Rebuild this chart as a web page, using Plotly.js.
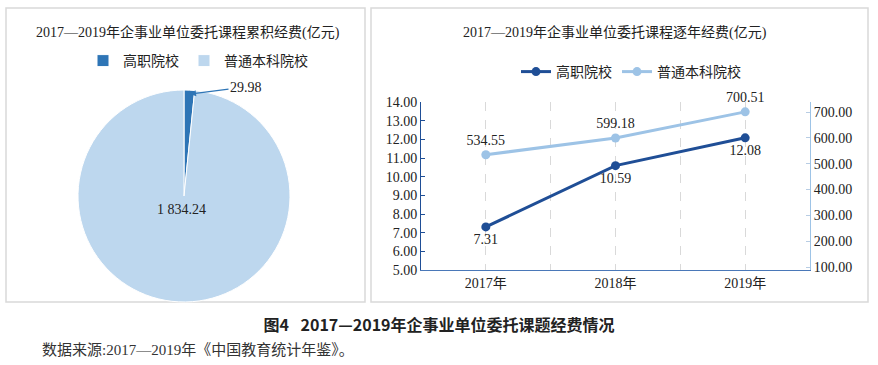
<!DOCTYPE html>
<html>
<head>
<meta charset="utf-8">
<script src="https://cdn.plot.ly/plotly-3.0.1.min.js"></script>
<style>html,body{margin:0;padding:0;background:#fff;}#chart{width:878px;height:365px;}</style>
</head>
<body>
<div id="chart"></div>
<script>
// ---- data ----
const pieLabels = ['高职院校', '普通本科院校'];
const pieValues = [29.98, 1834.24];
const years = ['2017年', '2018年', '2019年'];
const gaozhi = [7.31, 10.59, 12.08];
const benke = [534.55, 599.18, 700.51];
const leftTicks = [5, 6, 7, 8, 9, 10, 11, 12, 13, 14];
const rightTicks = [100, 200, 300, 400, 500, 600, 700];

const SERIF = '"Liberation Serif", "Noto Sans CJK SC", serif';
const W = 878, H = 365;
const px = x => x / W;
const py = y => 1 - y / H;

const dark = '#1f4e96';
const light = '#9dc3e6';

function fmtSpace(v) {
  const parts = v.toFixed(2).split('.');
  parts[0] = parts[0].replace(/\B(?=(\d{3})+(?!\d))/g, ' ');
  return parts.join('.');
}

const traces = [
  {
    type: 'pie',
    labels: pieLabels,
    values: pieValues,
    sort: false,
    direction: 'clockwise',
    rotation: 0,
    marker: {colors: ['#2e75b6', '#bdd7ee'], line: {color: '#ffffff', width: 1}},
    textinfo: 'none',
    hoverinfo: 'none',
    domain: {x: [px(78), px(290)], y: [py(302), py(90)]},
    legend: 'legend',
    showlegend: true
  },
  {
    type: 'scatter',
    mode: 'lines+markers+text',
    name: '高职院校',
    x: years,
    y: gaozhi,
    text: gaozhi.map(v => v.toFixed(2)),
    textposition: 'bottom center',
    textfont: {family: SERIF, size: 14, color: '#222'},
    line: {color: dark, width: 3},
    marker: {color: dark, size: 9},
    xaxis: 'x', yaxis: 'y',
    legend: 'legend2',
    cliponaxis: false
  },
  {
    type: 'scatter',
    mode: 'lines+markers+text',
    name: '普通本科院校',
    x: years,
    y: benke,
    text: benke.map(v => v.toFixed(2)),
    textposition: 'top center',
    textfont: {family: SERIF, size: 14, color: '#222'},
    line: {color: light, width: 3},
    marker: {color: light, size: 9},
    xaxis: 'x', yaxis: 'y2',
    legend: 'legend2',
    cliponaxis: false
  },
  {
    // invisible helper for dashed grid
    type: 'scatter', mode: 'none', x: [0, 2], y: [5, 5],
    xaxis: 'x3', yaxis: 'y', showlegend: false, hoverinfo: 'skip'
  }
];

const layout = {
  width: W, height: H,
  margin: {l: 0, r: 0, t: 0, b: 0},
  paper_bgcolor: '#ffffff',
  plot_bgcolor: 'rgba(0,0,0,0)',
  font: {family: SERIF, size: 14, color: '#222'},
  title: {
    text: '<b>图4\u2002 2017—2019年企事业单位委托课题经费情况</b>',
    font: {family: '"Noto Sans CJK SC", sans-serif', size: 16, color: '#222'},
    x: 0.5, xanchor: 'center', xref: 'paper',
    y: 1 - 325 / H, yanchor: 'middle', yref: 'container'
  },
  showlegend: true,
  legend: {
    orientation: 'h', x: px(198), xanchor: 'center', y: py(61), yanchor: 'middle',
    font: {family: SERIF, size: 14, color: '#222'},
    itemwidth: 30, tracegroupgap: 0, bgcolor: 'rgba(0,0,0,0)'
  },
  legend2: {
    orientation: 'h', x: px(631), xanchor: 'center', y: py(72), yanchor: 'middle',
    font: {family: SERIF, size: 14, color: '#222'},
    bgcolor: 'rgba(0,0,0,0)'
  },
  xaxis: {
    domain: [px(421), px(810)],
    type: 'category',
    range: [-0.5, 2.5],
    showgrid: false,
    showline: true, linecolor: '#4a78b8', linewidth: 1,
    ticks: '', zeroline: false,
    tickfont: {family: SERIF, size: 14, color: '#222'},
    anchor: 'y', fixedrange: true
  },
  xaxis3: {
    domain: [px(421), px(810)],
    overlaying: 'x', anchor: 'y',
    range: [-0.5, 2.5],
    tickvals: [0, 0.5, 1, 1.5, 2],
    showgrid: true, gridcolor: '#d9d9d9', griddash: 'dash', gridwidth: 1,
    showticklabels: false, ticks: '', showline: false, zeroline: false
  },
  yaxis: {
    domain: [py(270), py(102)],
    range: [5, 14],
    tickvals: leftTicks,
    tickformat: '.2f',
    showgrid: false, zeroline: false,
    showline: true, linecolor: '#1f4e96', linewidth: 1,
    ticks: 'inside', ticklen: 4, tickcolor: '#1f4e96',
    tickfont: {family: SERIF, size: 14, color: '#222'},
    anchor: 'x', fixedrange: true
  },
  yaxis2: {
    overlaying: 'y', side: 'right', anchor: 'x',
    range: [88.4, 738.7],
    tickvals: rightTicks,
    tickformat: '.2f',
    showgrid: false, zeroline: false,
    showline: true, linecolor: '#9dc3e6', linewidth: 1,
    ticks: 'inside', ticklen: 4, tickcolor: '#b8cde4',
    tickfont: {family: SERIF, size: 14, color: '#222'},
    fixedrange: true
  },
  shapes: [
    {type: 'rect', xref: 'paper', yref: 'paper', x0: px(6), x1: px(365), y0: py(302), y1: py(8),
     line: {color: '#d9d9d9', width: 1.5}, fillcolor: 'rgba(0,0,0,0)', layer: 'below'},
    {type: 'rect', xref: 'paper', yref: 'paper', x0: px(371), x1: px(868), y0: py(302), y1: py(8),
     line: {color: '#d9d9d9', width: 1.5}, fillcolor: 'rgba(0,0,0,0)', layer: 'below'}
  ],
  annotations: [
    {text: '2017—2019年企事业单位委托课程累积经费(亿元)', xref: 'paper', yref: 'paper',
     x: px(188), y: py(33), xanchor: 'center', yanchor: 'middle', showarrow: false,
     font: {family: SERIF, size: 14, color: '#222'}},
    {text: '2017—2019年企事业单位委托课程逐年经费(亿元)', xref: 'paper', yref: 'paper',
     x: px(615), y: py(33), xanchor: 'center', yanchor: 'middle', showarrow: false,
     font: {family: SERIF, size: 14, color: '#222'}},
    {text: fmtSpace(pieValues[0]), xref: 'paper', yref: 'paper',
     x: px(190), y: py(94), ax: 56, ay: -7, showarrow: true,
     arrowhead: 2, arrowsize: 1, arrowwidth: 1.2, arrowcolor: '#2e75b6', standoff: 0,
     font: {family: SERIF, size: 14, color: '#222'}},
    {text: fmtSpace(pieValues[1]), xref: 'paper', yref: 'paper',
     x: px(181), y: py(209), xanchor: 'center', yanchor: 'middle', showarrow: false,
     font: {family: SERIF, size: 14, color: '#222'}},
    {text: '数据来源:2017—2019年《中国教育统计年鉴》。', xref: 'paper', yref: 'paper',
     x: px(40), y: py(350), xanchor: 'left', yanchor: 'middle', showarrow: false,
     font: {family: SERIF, size: 15, color: '#333'}}
  ]
};

Plotly.newPlot('chart', traces, layout, {displayModeBar: false, staticPlot: true});
</script>
</body>
</html>
